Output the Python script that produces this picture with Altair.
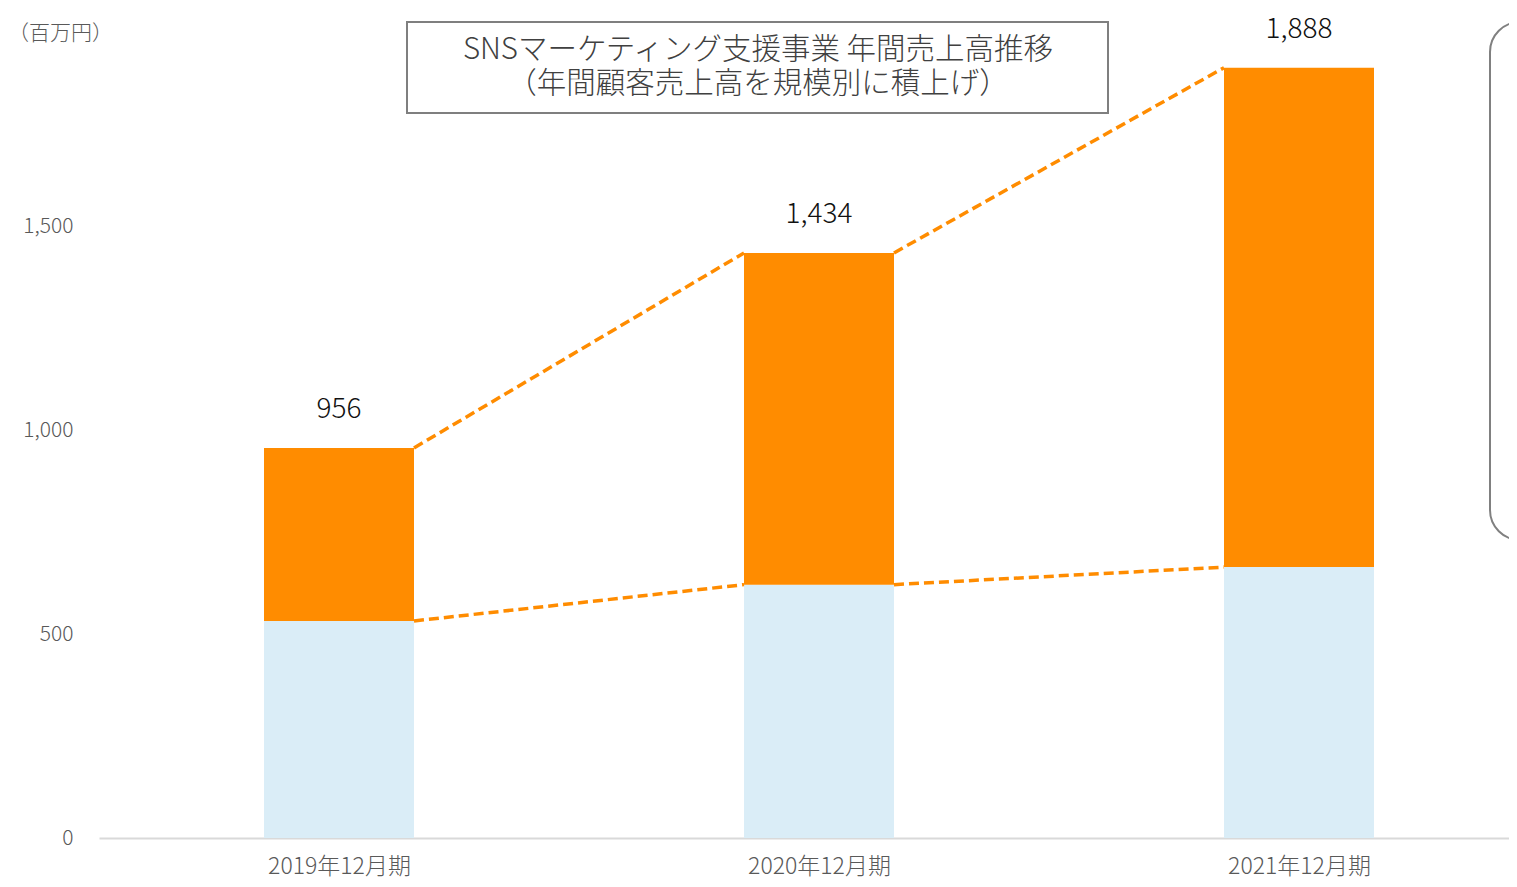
import json
import altair as alt
import pandas as pd

# ---- data ----
periods = ["2019年12月期", "2020年12月期", "2021年12月期"]
lower_vals = [532, 621, 664]          # light-blue segment
total_vals = [956, 1434, 1888]        # bar totals (labels)
title_lines = ["SNSマーケティング支援事業 年間売上高推移", "（年間顧客売上高を規模別に積上げ）"]
unit_label = "（百万円）"
y_ticks = [0, 500, 1000, 1500]

ORANGE = "#FF8C00"
LIGHT = "#DAEDF7"
GRAY_TXT = "#595959"
FONT = "Noto Sans CJK JP"

# ---- tables ----
rows = []
for i, (lo, tot) in enumerate(zip(lower_vals, total_vals)):
    rows.append({"idx": i, "seg": "lower", "y0": 0, "y1": lo})
    rows.append({"idx": i, "seg": "upper", "y0": lo, "y1": tot})
bars_df = pd.DataFrame(rows)

seg_rows = []
for series in (total_vals, lower_vals):
    for i in range(len(series) - 1):
        seg_rows.append({"xa": i, "xb": i + 1, "ya": series[i], "yb": series[i + 1]})
seg_df = pd.DataFrame(seg_rows)

lab_df = pd.DataFrame({"idx": list(range(len(total_vals))), "total": total_vals})
one = pd.DataFrame({"k": [0]})

label_expr = json.dumps(periods, ensure_ascii=False) + "[datum.value]"

PLOT_W = 1410
x_scale = alt.Scale(domain=[-0.5, -0.5 + PLOT_W / 480], nice=False, zero=False, padding=0)
y_scale = alt.Scale(domain=[0, 2000], nice=False, padding=0)

x_axis = alt.Axis(values=[0, 1, 2], labelExpr=label_expr, title=None, ticks=False, grid=False,
                  domainColor="#D9D9D9", domainWidth=2, labelFontSize=23, labelColor=GRAY_TXT,
                  labelFont=FONT, labelFontWeight=300, labelPadding=17)
y_axis = alt.Axis(values=y_ticks, format=",.0f", title=None, ticks=False, grid=False, domain=False,
                  labelFontSize=21, labelColor=GRAY_TXT, labelFont=FONT, labelFontWeight=300,
                  labelPadding=26)

bars = alt.Chart(bars_df).mark_bar(size=150).encode(
    x=alt.X("idx:Q", scale=x_scale, axis=x_axis),
    y=alt.Y("y0:Q", scale=y_scale, axis=y_axis),
    y2="y1:Q",
    color=alt.Color("seg:N", scale=alt.Scale(domain=["lower", "upper"], range=[LIGHT, ORANGE]), legend=None),
)

lines = alt.Chart(seg_df).mark_rule(
    xOffset=75, x2Offset=-75, strokeDash=[10, 5], strokeWidth=3.5, color=ORANGE
).encode(
    x=alt.X("xa:Q", scale=x_scale),
    x2="xb:Q",
    y=alt.Y("ya:Q", scale=y_scale),
    y2="yb:Q",
)

labels = alt.Chart(lab_df).mark_text(
    fontSize=28, font=FONT, fontWeight=300, color="#111111", baseline="middle", dy=-38
).encode(
    x=alt.X("idx:Q", scale=x_scale),
    y=alt.Y("total:Q", scale=y_scale),
    text=alt.Text("total:Q", format=",.0f"),
)

title_box = alt.Chart(one).mark_rect(fill="white", stroke="#7F7F7F", strokeWidth=2).encode(
    x=alt.value(308), x2=alt.value(1009), y=alt.value(0), y2=alt.value(91)
)
title_t = alt.Chart(one).mark_text(fontSize=29.5, font=FONT, fontWeight=300, color="#404040",
                                   align="center", baseline="middle", lineHeight=34).encode(
    x=alt.value(659), y=alt.value(28), text=alt.value(title_lines)
)
side_box = alt.Chart(one).mark_rect(fill="white", stroke="#808080", strokeWidth=2, cornerRadius=30).encode(
    x=alt.value(1391), x2=alt.value(1700), y=alt.value(0), y2=alt.value(518)
)
unit_t = alt.Chart(one).mark_text(fontSize=21, font=FONT, fontWeight=300, color=GRAY_TXT,
                                  align="left", baseline="middle").encode(
    x=alt.value(-91), y=alt.value(12), text=alt.value(unit_label)
)

chart = alt.layer(bars, lines, labels, title_box, title_t, side_box, unit_t).properties(
    width=PLOT_W, height=816,
    autosize=alt.AutoSizeParams(type="none"),
    padding={"left": 91, "top": 14, "right": 0, "bottom": 41},
).configure_view(stroke=None)

chart.save("out.html", embed_options={"renderer": "svg", "actions": False})
